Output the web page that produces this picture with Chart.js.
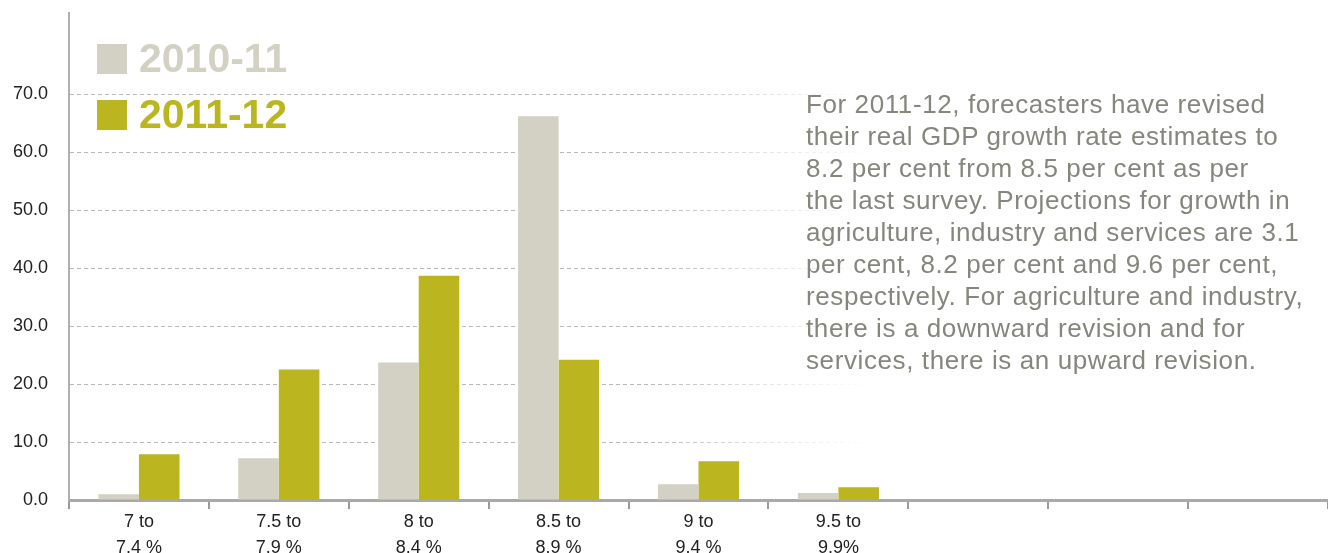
<!DOCTYPE html>
<html>
<head>
<meta charset="utf-8">
<script src="https://cdn.jsdelivr.net/npm/chart.js@4/dist/chart.umd.min.js"></script>
<style>
  html, body { margin: 0; padding: 0; background: #fff; }
  #wrap { position: relative; width: 1328px; height: 553px; }
  #note {
    position: absolute; left: 806px; top: 88px; width: 520px;
    font-family: "Liberation Sans", Arial, sans-serif;
    font-size: 26px; line-height: 32px; color: #86867e;
    letter-spacing: 0.6px; white-space: nowrap;
  }
</style>
</head>
<body>
<div id="wrap">
  <canvas id="chart" width="1328" height="553"></canvas>
  <div id="note">For 2011-12, forecasters have revised<br>their real GDP growth rate estimates to<br>8.2 per cent from 8.5 per cent as per<br>the last survey. Projections for growth in<br>agriculture, industry and services are 3.1<br>per cent, 8.2 per cent and 9.6 per cent,<br>respectively. For agriculture and industry,<br>there is a downward revision and for<br>services, there is an upward revision.</div>
</div>
<script>
// Categorias (rango de crecimiento) y series
var categories = [
  ['7 to', '7.4 %'],
  ['7.5 to', '7.9 %'],
  ['8 to', '8.4 %'],
  ['8.5 to', '8.9 %'],
  ['9 to', '9.4 %'],
  ['9.5 to', '9.9%'],
  '', '', ''
];
var series2010 = [1.0, 7.2, 23.7, 66.2, 2.7, 1.2, null, null, null];
var series2011 = [7.9, 22.5, 38.7, 24.2, 6.7, 2.2, null, null, null];
var seriesLabels = ['2010-11', '2011-12'];
var yTicks = [0, 10, 20, 30, 40, 50, 60, 70];

var GREY = '#d3d1c3';
var GREEN = '#bbb620';
var FONT = '"Liberation Sans", Arial, sans-serif';

// Leyenda dibujada arriba a la izquierda
var legendPlugin = {
  id: 'topLegend',
  afterDraw: function(chart) {
    var ctx = chart.ctx;
    ctx.save();
    chart.data.datasets.forEach(function(ds, i) {
      var y = 44 + i * 56;
      ctx.fillStyle = ds.backgroundColor;
      ctx.fillRect(97, y, 30, 30);
      ctx.font = 'bold 41px ' + FONT;
      ctx.textBaseline = 'middle';
      ctx.textAlign = 'left';
      ctx.fillText(ds.label, 139, y + 17);
    });
    ctx.restore();
  }
};

// lineas de la grilla que se desvanecen hacia el texto
function gridColor(c) {
  var chart = c.chart;
  var g = chart.ctx.createLinearGradient(69, 0, 1328, 0);
  g.addColorStop(0, 'rgba(185,185,185,1)');
  g.addColorStop(0.46, 'rgba(185,185,185,1)');
  g.addColorStop(0.56, 'rgba(185,185,185,0.35)');
  g.addColorStop(0.64, 'rgba(185,185,185,0)');
  g.addColorStop(1, 'rgba(185,185,185,0)');
  return g;
}

new Chart(document.getElementById('chart'), {
  type: 'bar',
  data: {
    labels: categories,
    datasets: [
      {label: seriesLabels[0], data: series2010, backgroundColor: GREY},
      {label: seriesLabels[1], data: series2011, backgroundColor: GREEN}
    ]
  },
  options: {
    responsive: false,
    animation: false,
    layout: {padding: {top: 13, right: 0, left: 0, bottom: 0}},
    categoryPercentage: 0.58,
    barPercentage: 1,
    plugins: {legend: {display: false}, tooltip: {enabled: false}},
    scales: {
      x: {
        afterFit: function(s) { s.height = 53; },
        border: {display: true, color: '#a9a9a9', width: 3},
        grid: {
          drawOnChartArea: false, drawTicks: true, tickLength: 9,
          color: '#9a9a9a', lineWidth: 2, offset: true
        },
        ticks: {
          color: '#222', font: {family: FONT, size: 18, lineHeight: 1.45},
          padding: 0, maxRotation: 0, autoSkip: false
        }
      },
      y: {
        min: 0, max: 84,
        afterFit: function(s) {
          s.width = 69;
          s.paddingTop = 0;
          s.paddingBottom = 0;
        },
        afterBuildTicks: function(s) {
          s.ticks = yTicks.map(function(v) { return {value: v}; });
        },
        border: {display: true, color: '#b0b0b0', width: 2, dash: [4, 3]},
        grid: {color: gridColor, lineWidth: 1, drawTicks: false},
        ticks: {
          color: '#222', font: {family: FONT, size: 18}, padding: 21,
          callback: function(v) { return Number(v).toFixed(1); }
        }
      }
    }
  },
  plugins: [legendPlugin]
});
</script>
</body>
</html>
